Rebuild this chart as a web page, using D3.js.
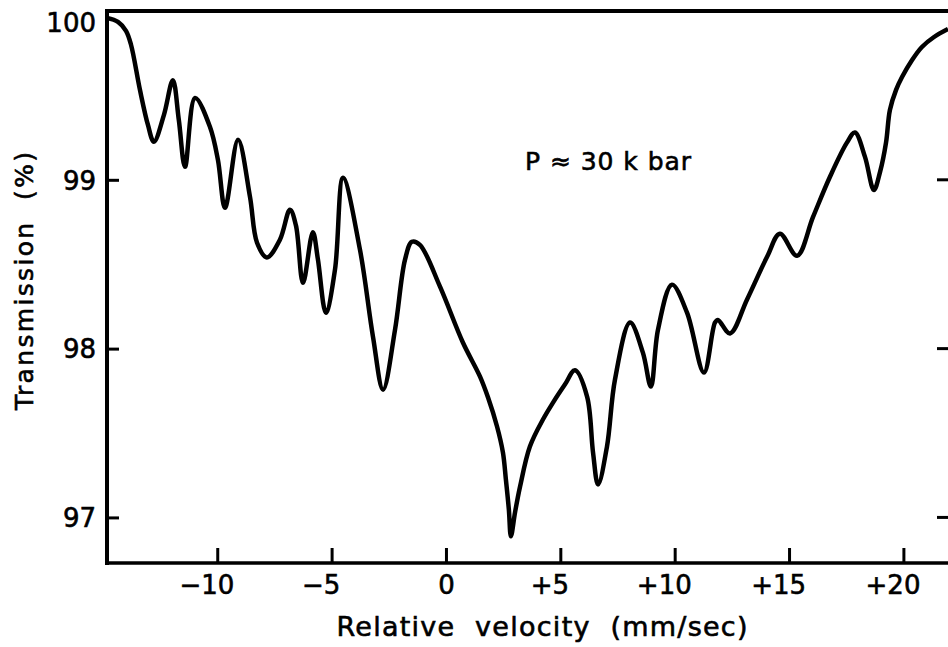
<!DOCTYPE html>
<html>
<head>
<meta charset="utf-8">
<script src="https://cdn.jsdelivr.net/npm/d3@7"></script>
<style>
  body { margin: 0; background: #fff; }
  svg text { font-family: "DejaVu Sans", sans-serif; fill: #000; stroke: #000; stroke-width: 0.6px; }
</style>
</head>
<body>
<div id="chart"></div>
<script>
// velocity (mm/sec) of the traced points of the spectrum
var velocity = [-14.82, -14.34, -13.99, -13.77, -13.38, -13.03, -12.77, -12.33, -11.94, -11.68,
  -11.41, -10.97, -10.32, -9.97, -9.66, -9.09, -8.57, -8.26, -7.83, -7.26,
  -6.82, -6.56, -6.25, -5.82, -5.60, -5.25, -4.85, -4.50, -3.76, -3.19,
  -2.75, -2.23, -1.79, -1.49, -1.14, -0.26, 0.74, 1.49, 1.84, 2.23,
  2.49, 2.62, 2.75, 2.84, 3.02, 3.24, 3.67, 4.24, 4.68, 5.20,
  5.64, 6.17, 6.43, 6.65, 7.04, 7.39, 8.05, 8.61, 8.96, 9.27,
  9.88, 10.54, 11.28, 11.76, 11.89, 12.42, 13.16, 14.04, 14.60, 15.35,
  16.05, 16.79, 17.53, 17.88, 18.32, 18.71, 18.98, 19.24, 19.41, 19.68,
  19.94, 20.38, 20.81, 21.34, 21.95];

// transmission (%) at each of those velocities
var transmission = [99.959, 99.935, 99.882, 99.80, 99.533, 99.325, 99.225, 99.385, 99.59, 99.355,
  99.077, 99.485, 99.314, 99.118, 98.834, 99.237, 98.90, 98.627, 98.54, 98.645,
  98.822, 98.73, 98.39, 98.69, 98.53, 98.213, 98.47, 99.012, 98.586, 98.07,
  97.757, 98.11, 98.527, 98.633, 98.615, 98.367, 98.036, 97.834, 97.71, 97.54,
  97.385, 97.225, 97.047, 96.888, 97.03, 97.183, 97.42, 97.58, 97.68, 97.787,
  97.872, 97.716, 97.385, 97.195, 97.42, 97.817, 98.154, 97.976, 97.775, 98.112,
  98.379, 98.213, 97.858, 98.154, 98.17, 98.09, 98.29, 98.544, 98.68, 98.55,
  98.78, 99.018, 99.22, 99.28, 99.136, 98.94, 99.047, 99.22, 99.414, 99.533,
  99.609, 99.71, 99.787, 99.846, 99.893];

// tick values and labels
var xTickValues = [-10, -5, 0, 5, 10, 15, 20];
var xTickLabels = ["\u221210", "\u22125", "0", "+5", "+10", "+15", "+20"];
var yTickValues = [97, 98, 99, 100];
var yRightTicks = [97, 98, 99];

var W = 948, H = 647;
// plot edges (note: "top" is taken by window.top, so these get their own names)
var plotLeft = 107, plotTop = 11, plotRight = 948, plotBottom = 563;

var svg = d3.select("#chart").append("svg")
  .attr("width", W)
  .attr("height", H);

var x = d3.scaleLinear().domain([-14.82, 21.95]).range([plotLeft, plotRight]);
var y = d3.scaleLinear().domain([96.73, 100]).range([plotBottom, plotTop]);

var points = velocity.map(function (v, i) { return [v, transmission[i]]; });

//the spectrum
var line = d3.line()
  .x(function (d) { return x(d[0]); })
  .y(function (d) { return y(d[1]); })
  .curve(d3.curveCatmullRom.alpha(0.5));

svg.append("path")
  .datum(points)
  .attr("d", line)
  .attr("fill", "none")
  .attr("stroke", "#000")
  .attr("stroke-width", 4.5)
  .attr("stroke-linejoin", "round");

//left axis with inward ticks
var yAxis = svg.append("g")
  .attr("transform", "translate(" + plotLeft + ",0)")
  .call(d3.axisLeft(y).tickValues(yTickValues).tickSizeInner(-12).tickSizeOuter(0).tickPadding(11)
    .tickFormat(d3.format("d")));
yAxis.select(".domain").remove();
yAxis.selectAll("line").attr("stroke", "#000").attr("stroke-width", 3);
yAxis.selectAll("text")
  .attr("font-size", 26)
  .attr("font-family", "DejaVu Sans")
  .attr("dy", function (d) { return d === 100 ? "0.78em" : "0.36em"; });
yAxis.selectAll(".tick").filter(function (d) { return d === 100; }).select("line").remove();

//right side ticks only (the frame edge is off the picture)
svg.selectAll(".rtick")
  .data(yRightTicks)
  .enter().append("line")
  .attr("class", "rtick")
  .attr("x1", plotRight - 11).attr("x2", plotRight)
  .attr("y1", function (d) { return y(d); })
  .attr("y2", function (d) { return y(d); })
  .attr("stroke", "#000")
  .attr("stroke-width", 3);

//bottom axis with inward ticks
var xAxis = svg.append("g")
  .attr("transform", "translate(0," + plotBottom + ")")
  .call(d3.axisBottom(x).tickValues(xTickValues).tickSizeInner(-15).tickSizeOuter(0).tickPadding(13)
    .tickFormat(function (d, i) { return xTickLabels[i]; }));
xAxis.select(".domain").remove();
xAxis.selectAll("line").attr("stroke", "#000").attr("stroke-width", 3);

//sign hangs left, the number sits centred on the tick
var measure = svg.append("text").attr("font-size", 26);
xAxis.selectAll("text")
  .attr("font-size", 26)
  .attr("font-family", "DejaVu Sans")
  .attr("text-anchor", "end")
  .attr("x", function (d, i) {
    measure.text(xTickLabels[i].replace(/[+\u2212]/, ""));
    return measure.node().getComputedTextLength() / 2;
  });
measure.remove();

//frame lines
svg.append("line")
  .attr("x1", plotLeft).attr("x2", plotRight + 2).attr("y1", plotTop).attr("y2", plotTop)
  .attr("stroke", "#000").attr("stroke-width", 4);
svg.append("line")
  .attr("x1", plotLeft).attr("x2", plotLeft).attr("y1", plotTop - 2).attr("y2", plotBottom + 2)
  .attr("stroke", "#000").attr("stroke-width", 4);
svg.append("line")
  .attr("x1", plotLeft - 2).attr("x2", plotRight + 2).attr("y1", plotBottom).attr("y2", plotBottom)
  .attr("stroke", "#000").attr("stroke-width", 3.5);

//axis titles
svg.append("text")
  .attr("x", 542).attr("y", 636)
  .attr("text-anchor", "middle")
  .attr("font-size", 27)
  .attr("xml:space", "preserve")
  .style("white-space", "pre")
  .attr("textLength", 411)
  .attr("lengthAdjust", "spacing")
  .text("Relative  velocity  (mm/sec)");

svg.append("text")
  .attr("transform", "translate(33,281) rotate(-90)")
  .attr("text-anchor", "middle")
  .attr("font-size", 25)
  .attr("xml:space", "preserve")
  .style("white-space", "pre")
  .attr("textLength", 258)
  .attr("lengthAdjust", "spacing")
  .text("Transmission  (%)");

//pressure note
svg.append("text")
  .attr("x", 525).attr("y", 170)
  .attr("font-size", 25)
  .attr("xml:space", "preserve")
  .style("white-space", "pre")
  .attr("textLength", 166)
  .attr("lengthAdjust", "spacing")
  .text("P \u2248 30 k bar");
</script>
</body>
</html>
